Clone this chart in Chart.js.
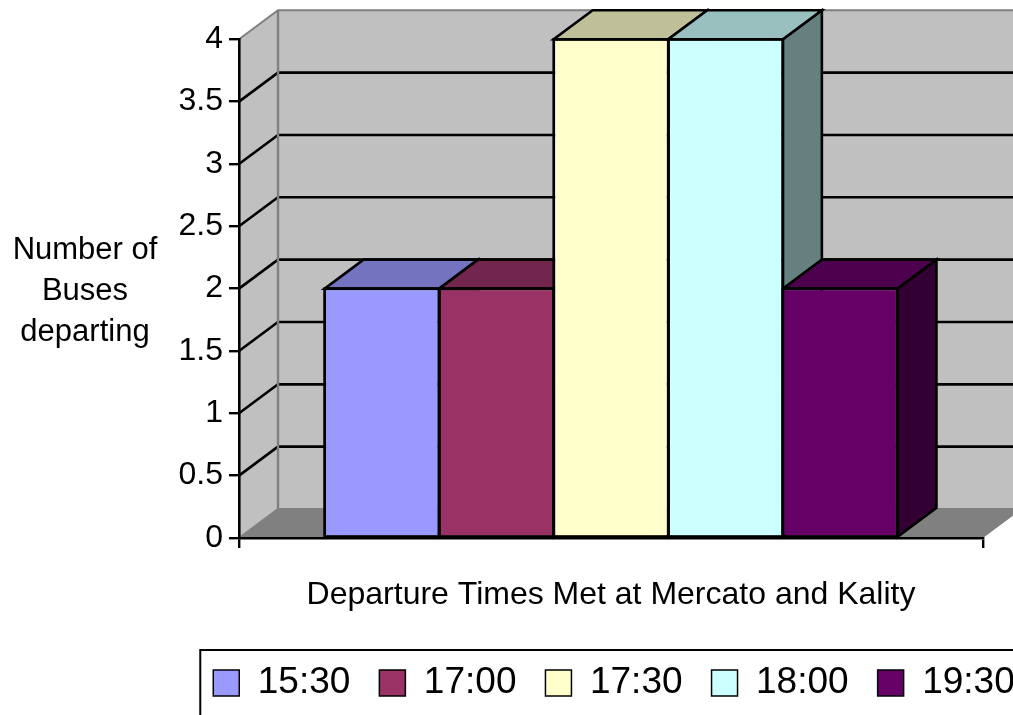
<!DOCTYPE html>
<html>
<head>
<meta charset="utf-8">
<title>Departure Times Met at Mercato and Kality</title>
<script src="https://cdn.jsdelivr.net/npm/chart.js@4.4.1/dist/chart.umd.min.js"></script>
<style>
  html, body { margin: 0; padding: 0; background: #fff; overflow: hidden; }
  #wrap { width: 1228px; height: 715px; }
</style>
</head>
<body>
<div id="wrap"><canvas id="chart" width="1228" height="715"></canvas></div>
<script>
// ---- data ----
const categories = [''];
const seriesLabels = ['15:30', '17:00', '17:30', '18:00', '19:30'];
const busesDeparting = [2, 2, 4, 4, 2];
const seriesColors = ['#9999FF', '#993366', '#FFFFCC', '#CCFFFF', '#660066'];
const yTickValues = [0, 0.5, 1, 1.5, 2, 2.5, 3, 3.5, 4];
const yTickLabels = ['0', '0.5', '1', '1.5', '2', '2.5', '3', '3.5', '4'];
const yTitleLines = ['Number of', 'Buses', 'departing'];
const xTitle = 'Departure Times Met at Mercato and Kality';

// ---- look ----
const FONT = "'Liberation Sans', Arial, sans-serif";
const DEPTH_X = 39;     // receding depth of the 3-D box
const DEPTH_Y = -29;
const WALL = '#C0C0C0';
const FLOOR = '#808080';
const EDGE = '#808080';
const OUTLINE = 2.6;

function shade(hex, f) {
  const n = parseInt(hex.slice(1), 16);
  const r = Math.round(((n >> 16) & 255) * f);
  const g = Math.round(((n >> 8) & 255) * f);
  const b = Math.round((n & 255) * f);
  return `rgb(${r},${g},${b})`;
}

function poly(ctx, pts, fill, stroke, lw) {
  ctx.beginPath();
  ctx.moveTo(pts[0][0], pts[0][1]);
  for (let i = 1; i < pts.length; i++) ctx.lineTo(pts[i][0], pts[i][1]);
  ctx.closePath();
  if (fill) { ctx.fillStyle = fill; ctx.fill(); }
  if (stroke) { ctx.strokeStyle = stroke; ctx.lineWidth = lw; ctx.stroke(); }
}

function line(ctx, pts, color, lw) {
  ctx.beginPath();
  ctx.moveTo(pts[0][0], pts[0][1]);
  for (let i = 1; i < pts.length; i++) ctx.lineTo(pts[i][0], pts[i][1]);
  ctx.strokeStyle = color;
  ctx.lineWidth = lw;
  ctx.stroke();
}

function barBox(chart, i) {
  const bar = chart.getDatasetMeta(i).data[0];
  const { x, y, base, width } = bar.getProps(['x', 'y', 'base', 'width'], true);
  return { l: x - width / 2, r: x + width / 2, top: y, base };
}

// Walls, floor and the receding faces of the bars
const box3d = {
  id: 'box3d',
  beforeDraw(chart) {
    const ctx = chart.ctx;
    const { left, right } = chart.chartArea;
    const y = chart.scales.y;
    const yMax = y.getPixelForValue(y.max);
    const yMin = y.getPixelForValue(y.min);
    ctx.save();
    ctx.lineJoin = 'miter';
    // back wall
    poly(ctx, [[left + DEPTH_X, yMax + DEPTH_Y], [right + DEPTH_X, yMax + DEPTH_Y],
               [right + DEPTH_X, yMin + DEPTH_Y], [left + DEPTH_X, yMin + DEPTH_Y]], WALL);
    // side wall
    poly(ctx, [[left, yMax], [left + DEPTH_X, yMax + DEPTH_Y],
               [left + DEPTH_X, yMin + DEPTH_Y], [left, yMin]], WALL);
    // floor
    poly(ctx, [[left, yMin], [right, yMin], [right + DEPTH_X, yMin + DEPTH_Y],
               [left + DEPTH_X, yMin + DEPTH_Y]], FLOOR);
    // grid lines running along side wall and back wall
    yTickValues.forEach(v => {
      const py = y.getPixelForValue(v);
      const edge = (v === y.max || v === y.min);
      line(ctx, [[left, py], [left + DEPTH_X, py + DEPTH_Y], [right + DEPTH_X, py + DEPTH_Y]],
           edge ? EDGE : '#000', edge ? 2 : 2.6);
    });
    // back corner edge
    line(ctx, [[left + DEPTH_X, yMax + DEPTH_Y], [left + DEPTH_X, yMin + DEPTH_Y]], EDGE, 2.4);
    ctx.restore();
  },
  beforeDatasetsDraw(chart) {
    const ctx = chart.ctx;
    ctx.save();
    ctx.lineJoin = 'miter';
    chart.data.datasets.forEach((ds, i) => {
      const { l, r, top, base } = barBox(chart, i);
      const col = ds.backgroundColor;
      // side face
      poly(ctx, [[r, top], [r + DEPTH_X, top + DEPTH_Y], [r + DEPTH_X, base + DEPTH_Y], [r, base]],
           shade(col, 0.5), '#000', OUTLINE);
      // top face
      poly(ctx, [[l, top], [r, top], [r + DEPTH_X, top + DEPTH_Y], [l + DEPTH_X, top + DEPTH_Y]],
           shade(col, 0.75), '#000', OUTLINE);
    });
    ctx.restore();
  },
  afterDatasetsDraw(chart) {
    // crisp outline of each front face, centred on its edges
    const ctx = chart.ctx;
    ctx.save();
    ctx.strokeStyle = '#000';
    ctx.lineWidth = OUTLINE;
    ctx.lineJoin = 'miter';
    chart.data.datasets.forEach((ds, i) => {
      const { l, r, top, base } = barBox(chart, i);
      ctx.strokeRect(l, top, r - l, base - top);
    });
    ctx.restore();
  },
  afterDraw(chart) {
    const ctx = chart.ctx;
    ctx.save();
    // value axis title, horizontal and stacked
    ctx.fillStyle = '#000';
    ctx.font = `31px ${FONT}`;
    ctx.textAlign = 'center';
    ctx.textBaseline = 'alphabetic';
    yTitleLines.forEach((t, i) => ctx.fillText(t, 85, 259 + i * 41));
    // legend frame
    const lg = chart.legend;
    if (lg && lg.legendHitBoxes && lg.legendHitBoxes.length) {
      const hb = lg.legendHitBoxes;
      const first = hb[0], last = hb[hb.length - 1];
      const x0 = first.left - 13;
      const x1 = last.left + last.width + 13;
      const y0 = first.top - 14.5;
      const y1 = first.top + first.height + 14.5;
      ctx.strokeStyle = '#000';
      ctx.lineWidth = 2;
      ctx.strokeRect(x0, y0, x1 - x0, y1 - y0);
    }
    ctx.restore();
  }
};

const datasets = seriesLabels.map((label, i) => ({
  label,
  data: [busesDeparting[i]],
  backgroundColor: seriesColors[i],
  borderColor: '#000',
  borderWidth: 1.5,
  borderSkipped: false,
  categoryPercentage: 0.77,
  barPercentage: 1
}));

new Chart(document.getElementById('chart'), {
  type: 'bar',
  data: { labels: categories, datasets },
  plugins: [box3d],
  options: {
    responsive: false,
    animation: false,
    layout: { padding: { left: 0, right: 0, top: 39.3, bottom: 3.5 } },
    plugins: {
      tooltip: { enabled: false },
      legend: {
        position: 'bottom',
        align: 'center',
        labels: {
          boxWidth: 26,
          boxHeight: 26,
          padding: 29,
          color: '#000',
          font: { family: FONT, size: 37 }
        }
      }
    },
    scales: {
      x: {
        type: 'category',
        offset: true,
        grid: { display: true, drawOnChartArea: false, drawTicks: true, tickLength: 10,
                color: '#000', lineWidth: 2.4, offset: true },
        border: { display: true, color: '#000', width: 2.6 },
        ticks: { display: false },
        title: { display: true, text: xTitle, color: '#000',
                 font: { family: FONT, size: 32 }, padding: { top: 0, bottom: 21.3 } },
        afterFit: s => { s.height = 97.5; }
      },
      y: {
        type: 'linear',
        position: 'left',
        min: 0,
        max: 4,
        afterBuildTicks: s => { s.ticks = yTickValues.map(v => ({ value: v })); },
        ticks: {
          color: '#000',
          padding: 6,
          font: { family: FONT, size: 32 },
          callback: (value, index) => yTickLabels[index]
        },
        grid: { drawOnChartArea: false, drawTicks: true, tickLength: 10, color: '#000', lineWidth: 2.4 },
        border: { display: true, color: '#000', width: 2.6 },
        afterFit: s => { s.width = 239; }
      },
      // room on the right for the receding walls
      depth: {
        type: 'linear',
        position: 'right',
        display: true,
        grid: { display: false },
        border: { display: false },
        ticks: { display: false },
        afterFit: s => { s.width = 245; }
      }
    }
  }
});
</script>
</body>
</html>
